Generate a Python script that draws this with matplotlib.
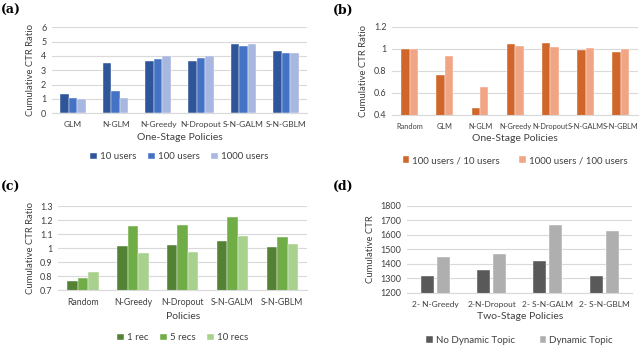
import numpy as np
import matplotlib
matplotlib.use("Agg")
import matplotlib.pyplot as plt

plt.rcParams['font.family'] = ['Lato', 'DejaVu Sans']

# (a) one-stage policies, cumulative CTR ratio per user count
a_cats = ['GLM', 'N-GLM', 'N-Greedy', 'N-Dropout', 'S-N-GALM', 'S-N-GBLM']
a_10 = [1.34, 3.53, 3.65, 3.67, 4.80, 4.34]
a_100 = [1.04, 1.57, 3.81, 3.86, 4.71, 4.23]
a_1000 = [0.97, 1.04, 3.97, 3.97, 4.80, 4.23]

# (b) ratio between user counts
b_cats = ['Random', 'GLM', 'N-GLM', 'N-Greedy', 'N-Dropout', 'S-N-GALM', 'S-N-GBLM']
b_100_10 = [1.0, 0.767, 0.46, 1.045, 1.05, 0.988, 0.976]
b_1000_100 = [1.0, 0.94, 0.655, 1.027, 1.02, 1.01, 0.997]

# (c) number of recommendations
c_cats = ['Random', 'N-Greedy', 'N-Dropout', 'S-N-GALM', 'S-N-GBLM']
c_1 = [0.764, 1.015, 1.02, 1.049, 1.006]
c_5 = [0.788, 1.162, 1.167, 1.222, 1.083]
c_10 = [0.83, 0.965, 0.972, 1.089, 1.03]

# (d) two-stage policies, cumulative CTR
d_cats = ['2- N-Greedy', '2-N-Dropout', '2- S-N-GALM', '2- S-N-GBLM']
d_nodyn = [1320, 1359, 1421, 1318]
d_dyn = [1447, 1468, 1671, 1627]

TXT = '#404040'
GRID = '#D9D9D9'


def style_axes(ax, ylim, yticks, yticklabels, xlabel, ylabel, xsize=6):
    ax.set_ylim(*ylim)
    ax.set_yticks(yticks)
    ax.set_yticklabels(yticklabels, fontsize=6.5, color=TXT)
    ax.tick_params(length=0, pad=4)
    ax.tick_params(axis='x', labelsize=xsize, labelcolor=TXT, pad=6)
    ax.yaxis.grid(True, color=GRID, linewidth=0.8)
    ax.set_axisbelow(True)
    for s in ['top', 'right', 'left']:
        ax.spines[s].set_visible(False)
    ax.spines['bottom'].set_color(GRID)
    ax.set_xlabel(xlabel, fontsize=7.5, color=TXT, labelpad=3)
    ax.set_ylabel(ylabel, fontsize=6.8, color=TXT, labelpad=4)


def grouped(ax, cats, series, colors, labels, width, step):
    x = np.arange(len(cats))
    n = len(series)
    for i, (vals, col, lab) in enumerate(zip(series, colors, labels)):
        off = (i - (n - 1) / 2) * step
        ax.bar(x + off, vals, width, color=col, label=lab,
               edgecolor='white', linewidth=0.3)
    ax.set_xticks(x)
    ax.set_xticklabels(cats)
    ax.set_xlim(-0.5, len(cats) - 0.5)


def legend(ax, y, ncol=3, spacing=1.2):
    ax.legend(loc='center', bbox_to_anchor=(0.5, y), ncol=ncol, frameon=False,
              fontsize=7, handlelength=0.7, handleheight=0.7, handletextpad=0.3,
              columnspacing=spacing, labelcolor=TXT)


fig = plt.figure(figsize=(6.4, 3.45), dpi=100)

# (a)
ax = fig.add_axes([0.081, 0.672, 0.399, 0.249])
grouped(ax, a_cats, [a_10, a_100, a_1000], ['#2E559A', '#4472C4', '#A8B7DF'],
        ['10 users', '100 users', '1000 users'], 0.2, 0.2)
style_axes(ax, (0, 6), range(0, 7), [str(v) for v in range(0, 7)],
           'One-Stage Policies', 'Cumulative CTR Ratio')
legend(ax, -0.51)

# (b)
ax = fig.add_axes([0.6125, 0.667, 0.385, 0.255])
grouped(ax, b_cats, [b_100_10, b_1000_100], ['#D0662A', '#F2A584'],
        ['100 users / 10 users', '1000 users / 100 users'], 0.24, 0.24)
style_axes(ax, (0.4, 1.2), [0.4, 0.6, 0.8, 1.0, 1.2], ['0.4', '0.6', '0.8', '1', '1.2'],
           'One-Stage Policies', 'Cumulative CTR Ratio', xsize=5.3)
legend(ax, -0.52, ncol=2, spacing=2.0)

# (c)
ax = fig.add_axes([0.091, 0.159, 0.389, 0.243])
grouped(ax, c_cats, [c_1, c_5, c_10], ['#548235', '#70AD47', '#A9D18E'],
        ['1 rec', '5 recs', '10 recs'], 0.21, 0.21)
cy = [0.7, 0.8, 0.9, 1.0, 1.1, 1.2, 1.3]
style_axes(ax, (0.7, 1.3), cy, ['0.7', '0.8', '0.9', '1', '1.1', '1.2', '1.3'],
           'Policies', 'Cumulative CTR Ratio', xsize=6.3)
legend(ax, -0.57)

# (d)
ax = fig.add_axes([0.636, 0.151, 0.352, 0.252])
grouped(ax, d_cats, [d_nodyn, d_dyn], ['#595959', '#AFAFAF'],
        ['No Dynamic Topic', 'Dynamic Topic'], 0.23, 0.28)
dy = list(range(1200, 1801, 100))
style_axes(ax, (1200, 1800), dy, [str(v) for v in dy],
           'Two-Stage Policies', 'Cumulative CTR', xsize=6)
legend(ax, -0.55, ncol=2, spacing=2.5)

for lab, x, y in [('(a)', 0.002, 0.97), ('(b)', 0.52, 0.97),
                  ('(c)', 0.002, 0.457), ('(d)', 0.52, 0.46)]:
    fig.text(x, y, lab, fontsize=9, fontweight='bold', family='DejaVu Serif',
             va='center', ha='left')

fig.savefig('out.png', dpi=100, facecolor='white')
